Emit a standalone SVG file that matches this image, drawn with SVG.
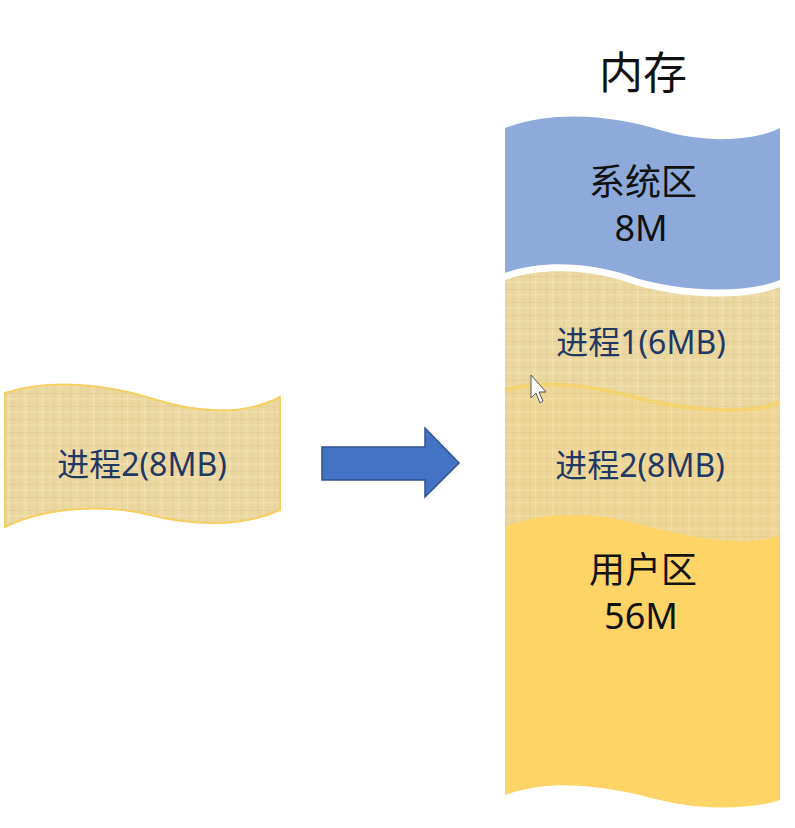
<svg xmlns="http://www.w3.org/2000/svg" width="795" height="828" viewBox="0 0 795 828">
<style>
.t{font-family:"Noto Sans","Noto Sans CJK SC",sans-serif;text-anchor:middle}
.big{font-size:36px;fill:#111}
.proc{font-size:32px;fill:#1f3864}
</style>
<defs>
<pattern id="paper" width="17" height="13" patternUnits="userSpaceOnUse">
<rect width="17" height="13" fill="#ebd7a0"/>
<path d="M3,0V13" stroke="#dcc58c" stroke-width="1" opacity="0.5"/>
<path d="M8.5,0V13" stroke="#f5e7bd" stroke-width="1.2" opacity="0.6"/>
<path d="M13,0V13" stroke="#dfc98f" stroke-width="0.8" opacity="0.45"/>
<path d="M0,3.5H17" stroke="#dcc48b" stroke-width="1" opacity="0.45"/>
<path d="M0,9H17" stroke="#f5e6b8" stroke-width="1.2" opacity="0.55"/>
</pattern>
</defs>
<rect width="795" height="828" fill="#ffffff"/>

<g id="title"><text class="t" x="643" y="89" font-size="44" fill="#111">内存</text></g>

<g id="memory">
<g id="sys">
<path d="M505,128 C560,108 620,118 660,130 S750,143 780,128 L780,280 C740,296 670,290 630,276 C590,262 540,260 505,273 Z" fill="#8eaadb"/>
<text class="t big" x="643" y="195">系统区</text>
<text class="t big" x="641" y="241">8M</text>
</g>
<g id="proc1">
<path d="M505,280 C540,267 590,269 630,283 C670,297 740,303 780,287 L780,560 L505,560 Z" fill="url(#paper)"/>
<text class="t proc" x="641" y="354">进程1(6MB)</text>
</g>
<g id="proc2">
<path d="M505,390 C540,380 590,385 630,396 C670,407 740,418 780,402 L780,560 L505,560 Z" fill="#f6d266" opacity="0.15"/>
<path d="M505,390 C540,380 590,385 630,396 C670,407 740,418 780,402" fill="none" stroke="#f7d261" stroke-width="4" opacity="0.75"/>
<text class="t proc" x="640" y="477">进程2(8MB)</text>
</g>
<g id="user">
<path d="M505,527 C540,512 590,512 630,522 C670,532 740,551 780,535 L780,800 C750,810 700,810 660,800 C620,790 560,775 505,795 Z" fill="#ffd466"/>
<text class="t big" x="643" y="583">用户区</text>
<text class="t big" x="641" y="629">56M</text>
</g>
</g>

<g id="process2">
<path d="M5,393 C50,378 110,385 150,398 C190,411 240,418 280,397 L280,510 C240,528 190,525 150,515 C110,505 50,505 5,527 Z" fill="url(#paper)" stroke="#f5cf62" stroke-width="2"/>
<text class="t proc" x="142" y="476">进程2(8MB)</text>
</g>

<g id="connectors">
<path d="M322,447 H425 V428 L459,463 L425,497 V480 H322 Z" fill="#4472c4" stroke="#2f528f" stroke-width="1.5"/>
</g>

<g id="cursor">
<path d="M531,375 V398 L536,393 L540,403 L543,401 L539,392 L546,392 Z" fill="#ffffff" stroke="#555" stroke-width="1"/>
</g>
</svg>
